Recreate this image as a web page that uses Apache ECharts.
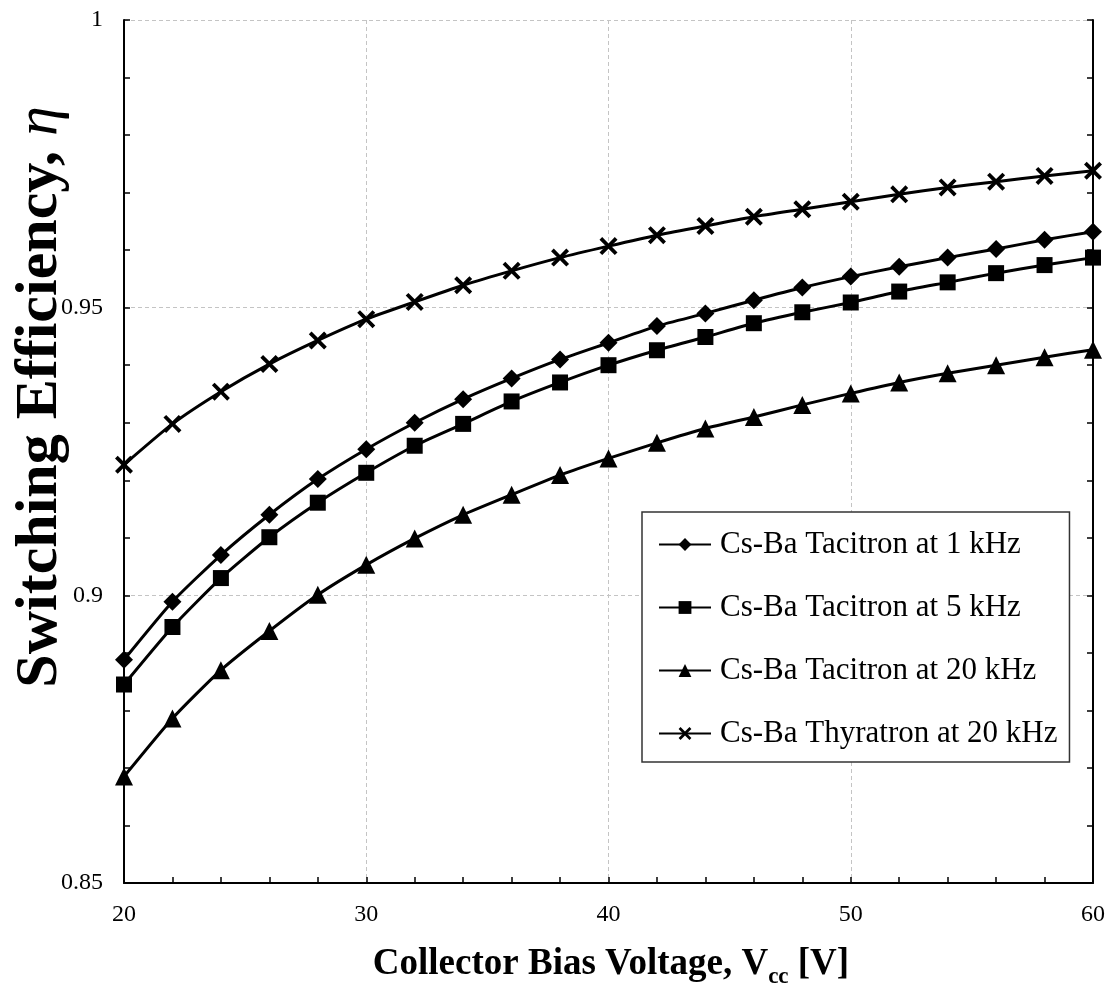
<!DOCTYPE html>
<html>
<head>
<meta charset="utf-8">
<script src="https://cdn.jsdelivr.net/npm/echarts@6/dist/echarts.min.js"></script>
<style>
  html, body { margin: 0; padding: 0; background: #fff; }
  #chart { width: 1116px; height: 995px; }
</style>
</head>
<body>
<div id="chart"></div>
<script>
// Collector bias voltage (V)
const voltages = [20, 22, 24, 26, 28, 30, 32, 34, 36, 38, 40, 42, 44, 46, 48, 50, 52, 54, 56, 58, 60];

// Switching efficiency for each device / frequency
const tacitron1k = [0.8888, 0.8989, 0.9070, 0.9140, 0.9202, 0.9254, 0.9300, 0.9341, 0.9377, 0.9410, 0.9439,
                    0.9468, 0.9490, 0.9513, 0.9535, 0.9554, 0.9571, 0.9587, 0.9602, 0.9618, 0.9632];
const tacitron5k = [0.8845, 0.8945, 0.9030, 0.9101, 0.9161, 0.9213, 0.9260, 0.9298, 0.9337, 0.9370, 0.9400,
                    0.9426, 0.9449, 0.9473, 0.9492, 0.9509, 0.9528, 0.9544, 0.9560, 0.9574, 0.9587];
const tacitron20k = [0.8685, 0.8786, 0.8870, 0.8938, 0.9001, 0.9053, 0.9099, 0.9140, 0.9175, 0.9209, 0.9238,
                     0.9265, 0.9290, 0.9310, 0.9331, 0.9351, 0.9370, 0.9386, 0.9400, 0.9414, 0.9427];
const thyratron20k = [0.9227, 0.9298, 0.9354, 0.9402, 0.9443, 0.9480, 0.9510, 0.9539, 0.9564, 0.9587, 0.9607,
                      0.9626, 0.9642, 0.9658, 0.9671, 0.9684, 0.9697, 0.9709, 0.9719, 0.9729, 0.9738];

const seriesNames = [
  'Cs-Ba Tacitron at 1 kHz',
  'Cs-Ba Tacitron at 5 kHz',
  'Cs-Ba Tacitron at 20 kHz',
  'Cs-Ba Thyratron at 20 kHz'
];

const SERIF = '"Liberation Serif", "Times New Roman", serif';
// filled "x" cross marker
const CROSS = 'path://M3,0 L10,7 L17,0 L20,3 L13,10 L20,17 L17,20 L10,13 L3,20 L0,17 L7,10 L0,3 Z';

function pairs(ys) { return voltages.map((v, i) => [v, ys[i]]); }

function lineSeries(name, ys, symbol, size) {
  return {
    name: name,
    type: 'line',
    data: pairs(ys),
    symbol: symbol,
    symbolSize: size,
    clip: false,
    smooth: 0.2,
    lineStyle: { color: '#000', width: 3 },
    itemStyle: { color: '#000' },
    emphasis: { disabled: true }
  };
}

const chart = echarts.init(document.getElementById('chart'), null, { renderer: 'canvas' });

const axisTickStyle = { inside: true, length: 6, lineStyle: { color: '#000', width: 1.5 } };
const gridLine = { show: true, lineStyle: { color: '#c4c4c4', width: 1, type: [4, 3] } };

chart.setOption({
  animation: false,
  backgroundColor: '#fff',
  textStyle: { fontFamily: SERIF },
  grid: { left: 124, right: 23, top: 20, bottom: 112, containLabel: false },
  xAxis: {
    type: 'value',
    min: 20, max: 60, interval: 10,
    axisLine: { show: true, onZero: false, lineStyle: { color: '#000', width: 2 } },
    axisTick: axisTickStyle,
    minorTick: { show: true, splitNumber: 5, length: 6, lineStyle: { color: '#000', width: 1.5 } },
    splitLine: gridLine,
    axisLabel: { color: '#000', fontFamily: SERIF, fontSize: 24, margin: 20 }
  },
  yAxis: [{
    type: 'value',
    min: 0.85, max: 1, interval: 0.05,
    axisLine: { show: true, onZero: false, lineStyle: { color: '#000', width: 2 } },
    axisTick: axisTickStyle,
    minorTick: { show: true, splitNumber: 5, length: 6, lineStyle: { color: '#000', width: 1.5 } },
    splitLine: gridLine,
    axisLabel: { color: '#000', fontFamily: SERIF, fontSize: 24, margin: 21 }
  }, {
    type: 'value',
    position: 'right',
    min: 0.85, max: 1, interval: 0.05,
    axisLine: { show: true, onZero: false, lineStyle: { color: '#000', width: 2 } },
    axisTick: axisTickStyle,
    minorTick: { show: true, splitNumber: 5, length: 6, lineStyle: { color: '#000', width: 1.5 } },
    splitLine: { show: false },
    axisLabel: { show: false }
  }],
  legend: {
    orient: 'vertical',
    left: 642, top: 512,
    padding: [17, 12, 13, 16],
    itemGap: 32,
    itemWidth: 52,
    itemHeight: 16,
    backgroundColor: '#fff',
    borderColor: '#333',
    borderWidth: 1.5,
    borderRadius: 0,
    selectedMode: false,
    data: seriesNames,
    textStyle: { color: '#000', fontFamily: SERIF, fontSize: 31, padding: [0, 0, 0, 4] }
  },
  series: [
    lineSeries(seriesNames[0], tacitron1k, 'diamond', 18),
    lineSeries(seriesNames[1], tacitron5k, 'rect', 16),
    lineSeries(seriesNames[2], tacitron20k, 'triangle', 18),
    lineSeries(seriesNames[3], thyratron20k, CROSS, 18)
  ],
  graphic: [{
    type: 'text',
    x: 611, y: 963,
    style: {
      text: '{a|Collector Bias Voltage, V}{s|cc}{a| [V]}',
      align: 'center',
      verticalAlign: 'middle',
      rich: {
        a: { fontFamily: SERIF, fontSize: 37, fontWeight: 'bold', fill: '#000', lineHeight: 40, verticalAlign: 'bottom' },
        s: { fontFamily: SERIF, fontSize: 23, fontWeight: 'bold', fill: '#000', lineHeight: 40, verticalAlign: 'bottom', padding: [0, 0, -6, 0] }
      }
    }
  }, {
    type: 'text',
    x: 40, y: 397,
    rotation: Math.PI / 2,
    style: {
      text: '{a|Switching Efficiency, }{e|η}',
      align: 'center',
      verticalAlign: 'middle',
      rich: {
        a: { fontFamily: SERIF, fontSize: 60, fontWeight: 'bold', fill: '#000' },
        e: { fontFamily: SERIF, fontSize: 60, fontStyle: 'italic', fill: '#000' }
      }
    }
  }]
});
</script>
</body>
</html>
